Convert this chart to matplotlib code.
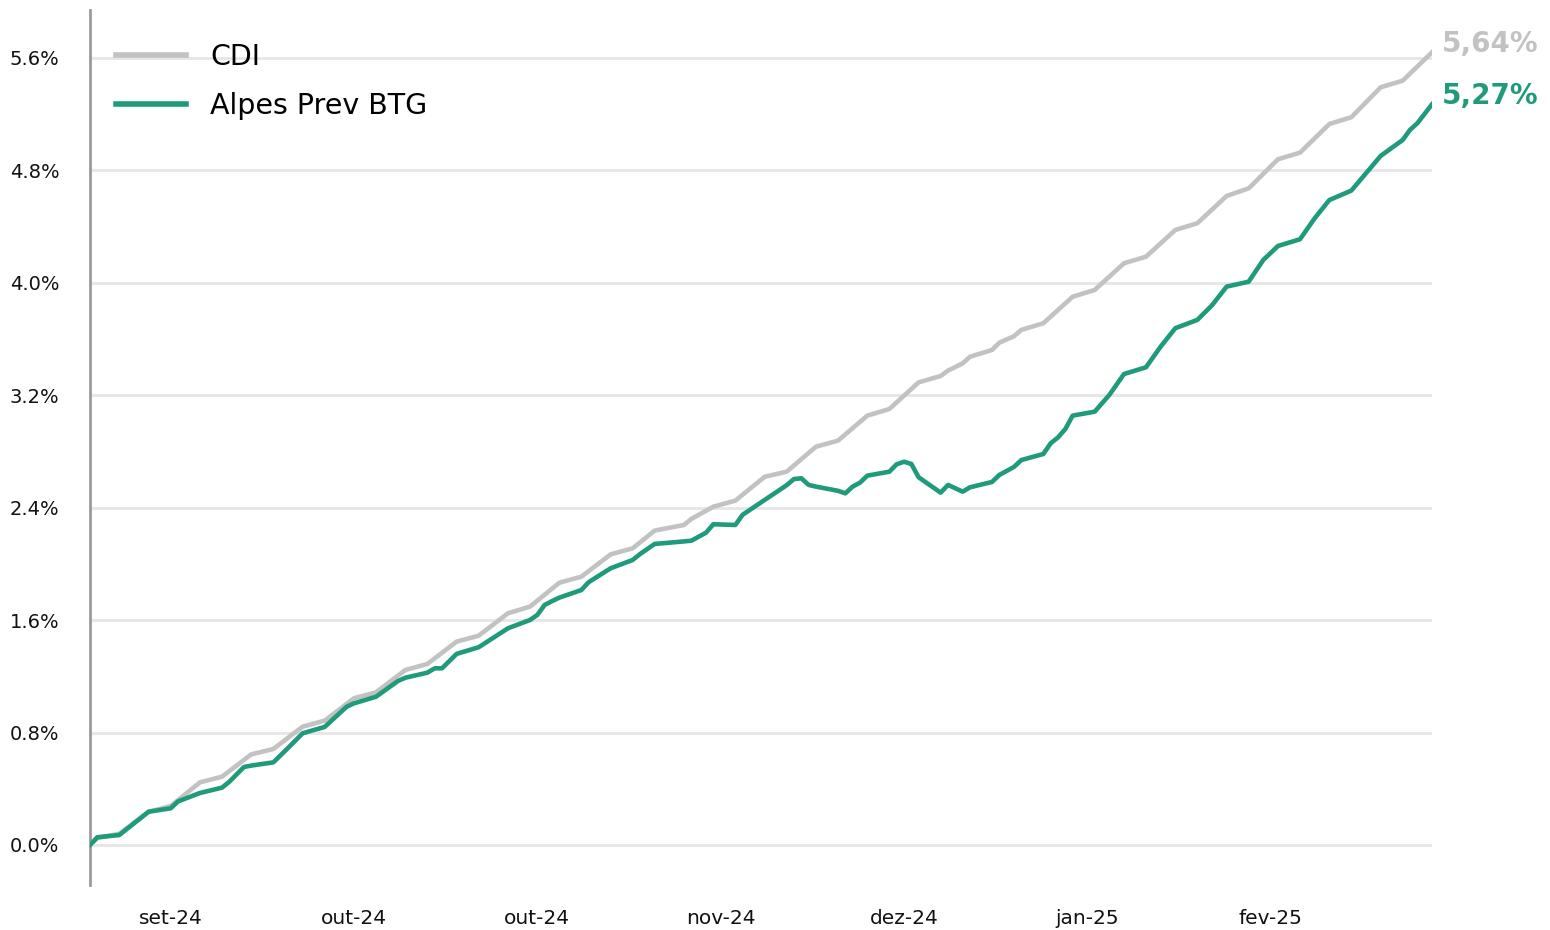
import matplotlib
matplotlib.use("Agg")
import matplotlib.pyplot as plt
import matplotlib.ticker as mticker
import pandas as pd

# ---- data (cumulative return, %) ----
cdi_dates = ["2024-08-29", "2024-08-30", "2024-09-02", "2024-09-06", "2024-09-09", "2024-09-13",
             "2024-09-16", "2024-09-20", "2024-09-23", "2024-09-27", "2024-09-30", "2024-10-04",
             "2024-10-07", "2024-10-11", "2024-10-14", "2024-10-18", "2024-10-21", "2024-10-25",
             "2024-10-28", "2024-11-01", "2024-11-04", "2024-11-08", "2024-11-11", "2024-11-14",
             "2024-11-18", "2024-11-19", "2024-11-22", "2024-11-25", "2024-11-29", "2024-12-02",
             "2024-12-06", "2024-12-09", "2024-12-13", "2024-12-16", "2024-12-20", "2024-12-23",
             "2024-12-24", "2024-12-26", "2024-12-27", "2024-12-30", "2024-12-31", "2025-01-02",
             "2025-01-03", "2025-01-06", "2025-01-10", "2025-01-13", "2025-01-17", "2025-01-20",
             "2025-01-24", "2025-01-27", "2025-01-31", "2025-02-03", "2025-02-07", "2025-02-10",
             "2025-02-14", "2025-02-17", "2025-02-21", "2025-02-24", "2025-02-28"]
cdi_values = [0.00, 0.05, 0.08, 0.237, 0.277, 0.446,
              0.486, 0.645, 0.683, 0.842, 0.885, 1.044,
              1.086, 1.245, 1.288, 1.447, 1.489, 1.649,
              1.696, 1.866, 1.909, 2.068, 2.111, 2.237,
              2.277, 2.32, 2.407, 2.45, 2.62, 2.656,
              2.834, 2.877, 3.055, 3.102, 3.292, 3.337,
              3.375, 3.427, 3.474, 3.522, 3.574, 3.62,
              3.665, 3.712, 3.901, 3.949, 4.139, 4.186,
              4.376, 4.424, 4.618, 4.672, 4.879, 4.926,
              5.13, 5.178, 5.391, 5.438, 5.64]

fund_dates = ["2024-08-29", "2024-08-30", "2024-09-02", "2024-09-06", "2024-09-09", "2024-09-10",
              "2024-09-13", "2024-09-16", "2024-09-17", "2024-09-19", "2024-09-20", "2024-09-23",
              "2024-09-25", "2024-09-27", "2024-09-30", "2024-10-03", "2024-10-04", "2024-10-07",
              "2024-10-10", "2024-10-11", "2024-10-14", "2024-10-15", "2024-10-16", "2024-10-18",
              "2024-10-21", "2024-10-25", "2024-10-28", "2024-10-29", "2024-10-30", "2024-10-31",
              "2024-11-01", "2024-11-04", "2024-11-05", "2024-11-08", "2024-11-11", "2024-11-12",
              "2024-11-14", "2024-11-18", "2024-11-19", "2024-11-21", "2024-11-22", "2024-11-25",
              "2024-11-26", "2024-11-29", "2024-12-02", "2024-12-03", "2024-12-04", "2024-12-05",
              "2024-12-06", "2024-12-09", "2024-12-10", "2024-12-11", "2024-12-12", "2024-12-13",
              "2024-12-16", "2024-12-17", "2024-12-18", "2024-12-19", "2024-12-20", "2024-12-23",
              "2024-12-24", "2024-12-26", "2024-12-27", "2024-12-30", "2024-12-31", "2025-01-02",
              "2025-01-03", "2025-01-06", "2025-01-07", "2025-01-08", "2025-01-09", "2025-01-10",
              "2025-01-13", "2025-01-15", "2025-01-17", "2025-01-20", "2025-01-22", "2025-01-24",
              "2025-01-27", "2025-01-29", "2025-01-31", "2025-02-03", "2025-02-05", "2025-02-07",
              "2025-02-10", "2025-02-12", "2025-02-14", "2025-02-17", "2025-02-21", "2025-02-24",
              "2025-02-25", "2025-02-26", "2025-02-28"]
fund_values = [0.00, 0.055, 0.071, 0.237, 0.261, 0.31,
               0.37, 0.408, 0.45, 0.555, 0.565, 0.588,
               0.69, 0.795, 0.84, 0.984, 1.008, 1.055,
               1.167, 1.19, 1.226, 1.257, 1.257, 1.36,
               1.407, 1.542, 1.601, 1.637, 1.708, 1.735,
               1.76, 1.814, 1.87, 1.969, 2.028, 2.07,
               2.142, 2.16, 2.165, 2.222, 2.282, 2.277,
               2.35, 2.455, 2.56, 2.604, 2.609, 2.562,
               2.55, 2.52, 2.502, 2.55, 2.578, 2.628,
               2.656, 2.709, 2.727, 2.711, 2.616, 2.507,
               2.562, 2.514, 2.545, 2.583, 2.633, 2.69,
               2.739, 2.782, 2.858, 2.9, 2.96, 3.055,
               3.083, 3.202, 3.351, 3.399, 3.546, 3.677,
               3.736, 3.84, 3.973, 4.008, 4.163, 4.262,
               4.31, 4.459, 4.589, 4.656, 4.903, 5.016,
               5.088, 5.135, 5.27]

series_names = ["CDI", "Alpes Prev BTG"]
series_colors = ["#c2c2c2", "#1f9b7c"]
end_labels = ["5,64%", "5,27%"]

yticks = [0.0, 0.8, 1.6, 2.4, 3.2, 4.0, 4.8, 5.6]
month_abbr = {1: "jan", 2: "fev", 3: "mar", 4: "abr", 5: "mai", 6: "jun",
              7: "jul", 8: "ago", 9: "set", 10: "out", 11: "nov", 12: "dez"}
tick_start = "2024-09-09"
tick_step_days = 25
n_ticks = 7

# ---- figure ----
plt.rcParams['font.family'] = ['DejaVu Sans']
fig = plt.figure(figsize=(15.5, 9.3), dpi=100)
ax = fig.add_axes([90 / 1550, 45 / 930, (1432 - 90) / 1550, (885 - 10) / 930])

cdi_x = pd.to_datetime(cdi_dates)
fund_x = pd.to_datetime(fund_dates)

ax.plot(cdi_x, cdi_values, color=series_colors[0], lw=3.3, label=series_names[0],
        solid_joinstyle='round', zorder=3)
ax.plot(fund_x, fund_values, color=series_colors[1], lw=3.3, label=series_names[1],
        solid_joinstyle='round', zorder=4)

ax.set_xlim(cdi_x[0], cdi_x[-1])
ax.set_ylim(-0.2846, 5.941)

ax.set_yticks(yticks)
ax.yaxis.set_major_formatter(mticker.FuncFormatter(lambda v, p: f"{v:.1f}%"))
ax.grid(axis='y', color='#e6e6e6', lw=2)
ax.set_axisbelow(True)

ticks = pd.date_range(tick_start, periods=n_ticks, freq=f"{tick_step_days}D")
ax.set_xticks(ticks)
ax.set_xticklabels([f"{month_abbr[t.month]}-{t.strftime('%y')}" for t in ticks])

ax.tick_params(axis='y', length=0, pad=22, labelsize=14, colors='#111111')
ax.tick_params(axis='x', length=0, pad=17, labelsize=14.5, colors='#111111')
for s in ['top', 'right', 'bottom']:
    ax.spines[s].set_visible(False)
ax.spines['left'].set_color('#9a9a9a')
ax.spines['left'].set_linewidth(2)

# end labels
ax.annotate(end_labels[0], xy=(cdi_x[-1], cdi_values[-1]), xytext=(7, 6),
            textcoords='offset points', color=series_colors[0], fontsize=20,
            fontweight='bold', ha='left', va='center', annotation_clip=False)
ax.annotate(end_labels[1], xy=(fund_x[-1], fund_values[-1]), xytext=(7, 6),
            textcoords='offset points', color=series_colors[1], fontsize=20,
            fontweight='bold', ha='left', va='center', annotation_clip=False)

leg = ax.legend(loc='upper left', bbox_to_anchor=(105 / 1550, 1 - 32 / 930),
                bbox_transform=fig.transFigure, frameon=False, fontsize=20.5,
                handlelength=2.45, handletextpad=0.85, labelspacing=0.72,
                borderaxespad=0)
for line in leg.get_lines():
    line.set_linewidth(4)

fig.savefig("out.png", dpi=100, facecolor='white')
